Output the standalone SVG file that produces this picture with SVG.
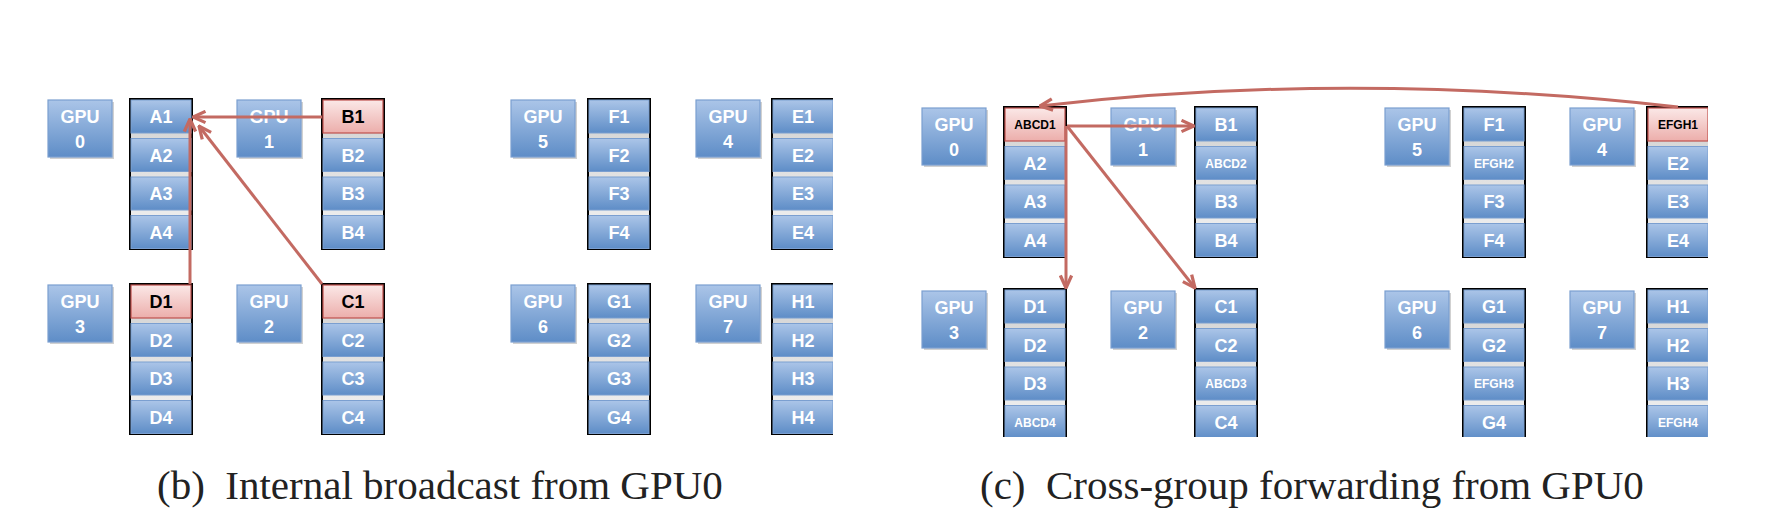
<svg xmlns="http://www.w3.org/2000/svg" width="1792" height="524" viewBox="0 0 1792 524">
<style>
.gpu{fill:url(#gBlue);stroke:#7b9fd0;stroke-width:1.2}
.sh{fill:#000;opacity:0.18}
.frame{fill:url(#gGap);stroke:#000;stroke-width:2}
.cell{fill:url(#gBlue);stroke:#7b9fd0;stroke-width:1}
.hot{fill:url(#gPink);stroke:#c0504d;stroke-width:1.2}
.lbl{font-family:"Liberation Sans",Arial,sans-serif;font-weight:bold;font-size:18px;fill:#fff;text-anchor:middle}
.sm{font-size:12px}
.dk{fill:#000}
.cap{font-family:"Liberation Serif","Times New Roman",serif;font-size:41px;fill:#222}
.con{fill:none;stroke:#c36a62;stroke-width:3;marker-end:url(#arr)}
</style>
<defs>
<linearGradient id="gBlue" x1="0" y1="0" x2="0" y2="1">
<stop offset="0" stop-color="#abc5e8"/><stop offset="1" stop-color="#5e8dc7"/>
</linearGradient>
<linearGradient id="gPink" x1="0" y1="0" x2="0" y2="1">
<stop offset="0" stop-color="#fbe8e7"/><stop offset="1" stop-color="#ecaeab"/>
</linearGradient>
<linearGradient id="gGap" x1="0" y1="0" x2="0" y2="1">
<stop offset="0" stop-color="#cfcfcf"/><stop offset="1" stop-color="#f4f4f4"/>
</linearGradient>
<marker id="arr" viewBox="0 0 12 12" refX="11" refY="6" markerWidth="15" markerHeight="15" markerUnits="userSpaceOnUse" orient="auto">
<path d="M1,1.5 L11,6 L1,10.5" fill="none" stroke="#c36a62" stroke-width="2.6"/>
</marker>
<clipPath id="clipB"><rect x="0" y="0" width="833" height="524"/></clipPath>
<clipPath id="clipC"><rect x="840" y="0" width="868" height="437"/></clipPath>
</defs>
<rect width="1792" height="524" fill="#fff"/>

<!-- Panel (b) -->
<g clip-path="url(#clipB)">
<g id="b-gpu0"><rect class="sh" x="50" y="102" width="64" height="57"/><rect class="gpu" x="48" y="100" width="64" height="57"/><text class="lbl" x="80" y="123">GPU</text><text class="lbl" x="80" y="148">0</text></g>
<g id="b-gpu1"><rect class="sh" x="239" y="102" width="64" height="57"/><rect class="gpu" x="237" y="100" width="64" height="57"/><text class="lbl" x="269" y="123">GPU</text><text class="lbl" x="269" y="148">1</text></g>
<g id="b-gpu5"><rect class="sh" x="513" y="102" width="64" height="57"/><rect class="gpu" x="511" y="100" width="64" height="57"/><text class="lbl" x="543" y="123">GPU</text><text class="lbl" x="543" y="148">5</text></g>
<g id="b-gpu4"><rect class="sh" x="698" y="102" width="64" height="57"/><rect class="gpu" x="696" y="100" width="64" height="57"/><text class="lbl" x="728" y="123">GPU</text><text class="lbl" x="728" y="148">4</text></g>
<g id="b-gpu3"><rect class="sh" x="50" y="287" width="64" height="57"/><rect class="gpu" x="48" y="285" width="64" height="57"/><text class="lbl" x="80" y="308">GPU</text><text class="lbl" x="80" y="333">3</text></g>
<g id="b-gpu2"><rect class="sh" x="239" y="287" width="64" height="57"/><rect class="gpu" x="237" y="285" width="64" height="57"/><text class="lbl" x="269" y="308">GPU</text><text class="lbl" x="269" y="333">2</text></g>
<g id="b-gpu6"><rect class="sh" x="513" y="287" width="64" height="57"/><rect class="gpu" x="511" y="285" width="64" height="57"/><text class="lbl" x="543" y="308">GPU</text><text class="lbl" x="543" y="333">6</text></g>
<g id="b-gpu7"><rect class="sh" x="698" y="287" width="64" height="57"/><rect class="gpu" x="696" y="285" width="64" height="57"/><text class="lbl" x="728" y="308">GPU</text><text class="lbl" x="728" y="333">7</text></g>

<g id="b-stackA"><rect class="frame" x="130" y="99" width="62" height="150"/>
<rect class="cell" x="131" y="100" width="60" height="33"/><text class="lbl" x="161" y="123">A1</text>
<rect class="cell" x="131" y="138.5" width="60" height="33"/><text class="lbl" x="161" y="161.5">A2</text>
<rect class="cell" x="131" y="177" width="60" height="33"/><text class="lbl" x="161" y="200">A3</text>
<rect class="cell" x="131" y="215.5" width="60" height="33"/><text class="lbl" x="161" y="238.5">A4</text></g>
<g id="b-stackB"><rect class="frame" x="322" y="99" width="62" height="150"/>
<rect class="hot" x="323" y="100" width="60" height="33"/><text class="lbl dk" x="353" y="123">B1</text>
<rect class="cell" x="323" y="138.5" width="60" height="33"/><text class="lbl" x="353" y="161.5">B2</text>
<rect class="cell" x="323" y="177" width="60" height="33"/><text class="lbl" x="353" y="200">B3</text>
<rect class="cell" x="323" y="215.5" width="60" height="33"/><text class="lbl" x="353" y="238.5">B4</text></g>
<g id="b-stackF"><rect class="frame" x="588" y="99" width="62" height="150"/>
<rect class="cell" x="589" y="100" width="60" height="33"/><text class="lbl" x="619" y="123">F1</text>
<rect class="cell" x="589" y="138.5" width="60" height="33"/><text class="lbl" x="619" y="161.5">F2</text>
<rect class="cell" x="589" y="177" width="60" height="33"/><text class="lbl" x="619" y="200">F3</text>
<rect class="cell" x="589" y="215.5" width="60" height="33"/><text class="lbl" x="619" y="238.5">F4</text></g>
<g id="b-stackE"><rect class="frame" x="772" y="99" width="62" height="150"/>
<rect class="cell" x="773" y="100" width="60" height="33"/><text class="lbl" x="803" y="123">E1</text>
<rect class="cell" x="773" y="138.5" width="60" height="33"/><text class="lbl" x="803" y="161.5">E2</text>
<rect class="cell" x="773" y="177" width="60" height="33"/><text class="lbl" x="803" y="200">E3</text>
<rect class="cell" x="773" y="215.5" width="60" height="33"/><text class="lbl" x="803" y="238.5">E4</text></g>

<g id="b-stackD"><rect class="frame" x="130" y="284" width="62" height="150"/>
<rect class="hot" x="131" y="285" width="60" height="33"/><text class="lbl dk" x="161" y="308">D1</text>
<rect class="cell" x="131" y="323.5" width="60" height="33"/><text class="lbl" x="161" y="346.5">D2</text>
<rect class="cell" x="131" y="362" width="60" height="33"/><text class="lbl" x="161" y="385">D3</text>
<rect class="cell" x="131" y="400.5" width="60" height="33"/><text class="lbl" x="161" y="423.5">D4</text></g>
<g id="b-stackC"><rect class="frame" x="322" y="284" width="62" height="150"/>
<rect class="hot" x="323" y="285" width="60" height="33"/><text class="lbl dk" x="353" y="308">C1</text>
<rect class="cell" x="323" y="323.5" width="60" height="33"/><text class="lbl" x="353" y="346.5">C2</text>
<rect class="cell" x="323" y="362" width="60" height="33"/><text class="lbl" x="353" y="385">C3</text>
<rect class="cell" x="323" y="400.5" width="60" height="33"/><text class="lbl" x="353" y="423.5">C4</text></g>
<g id="b-stackG"><rect class="frame" x="588" y="284" width="62" height="150"/>
<rect class="cell" x="589" y="285" width="60" height="33"/><text class="lbl" x="619" y="308">G1</text>
<rect class="cell" x="589" y="323.5" width="60" height="33"/><text class="lbl" x="619" y="346.5">G2</text>
<rect class="cell" x="589" y="362" width="60" height="33"/><text class="lbl" x="619" y="385">G3</text>
<rect class="cell" x="589" y="400.5" width="60" height="33"/><text class="lbl" x="619" y="423.5">G4</text></g>
<g id="b-stackH"><rect class="frame" x="772" y="284" width="62" height="150"/>
<rect class="cell" x="773" y="285" width="60" height="33"/><text class="lbl" x="803" y="308">H1</text>
<rect class="cell" x="773" y="323.5" width="60" height="33"/><text class="lbl" x="803" y="346.5">H2</text>
<rect class="cell" x="773" y="362" width="60" height="33"/><text class="lbl" x="803" y="385">H3</text>
<rect class="cell" x="773" y="400.5" width="60" height="33"/><text class="lbl" x="803" y="423.5">H4</text></g>
</g>

<!-- Panel (c) -->
<g clip-path="url(#clipC)">
<g id="c-gpu0"><rect class="sh" x="924" y="110" width="64" height="57"/><rect class="gpu" x="922" y="108" width="64" height="57"/><text class="lbl" x="954" y="131">GPU</text><text class="lbl" x="954" y="156">0</text></g>
<g id="c-gpu1"><rect class="sh" x="1113" y="110" width="64" height="57"/><rect class="gpu" x="1111" y="108" width="64" height="57"/><text class="lbl" x="1143" y="131">GPU</text><text class="lbl" x="1143" y="156">1</text></g>
<g id="c-gpu5"><rect class="sh" x="1387" y="110" width="64" height="57"/><rect class="gpu" x="1385" y="108" width="64" height="57"/><text class="lbl" x="1417" y="131">GPU</text><text class="lbl" x="1417" y="156">5</text></g>
<g id="c-gpu4"><rect class="sh" x="1572" y="110" width="64" height="57"/><rect class="gpu" x="1570" y="108" width="64" height="57"/><text class="lbl" x="1602" y="131">GPU</text><text class="lbl" x="1602" y="156">4</text></g>
<g id="c-gpu3"><rect class="sh" x="924" y="293" width="64" height="57"/><rect class="gpu" x="922" y="291" width="64" height="57"/><text class="lbl" x="954" y="314">GPU</text><text class="lbl" x="954" y="339">3</text></g>
<g id="c-gpu2"><rect class="sh" x="1113" y="293" width="64" height="57"/><rect class="gpu" x="1111" y="291" width="64" height="57"/><text class="lbl" x="1143" y="314">GPU</text><text class="lbl" x="1143" y="339">2</text></g>
<g id="c-gpu6"><rect class="sh" x="1387" y="293" width="64" height="57"/><rect class="gpu" x="1385" y="291" width="64" height="57"/><text class="lbl" x="1417" y="314">GPU</text><text class="lbl" x="1417" y="339">6</text></g>
<g id="c-gpu7"><rect class="sh" x="1572" y="293" width="64" height="57"/><rect class="gpu" x="1570" y="291" width="64" height="57"/><text class="lbl" x="1602" y="314">GPU</text><text class="lbl" x="1602" y="339">7</text></g>

<g id="c-stackA"><rect class="frame" x="1004" y="107" width="62" height="150"/>
<rect class="hot" x="1005" y="108" width="60" height="33"/><text class="lbl sm dk" x="1035" y="129">ABCD1</text>
<rect class="cell" x="1005" y="146.5" width="60" height="33"/><text class="lbl" x="1035" y="169.5">A2</text>
<rect class="cell" x="1005" y="185" width="60" height="33"/><text class="lbl" x="1035" y="208">A3</text>
<rect class="cell" x="1005" y="223.5" width="60" height="33"/><text class="lbl" x="1035" y="246.5">A4</text></g>
<g id="c-stackB"><rect class="frame" x="1195" y="107" width="62" height="150"/>
<rect class="cell" x="1196" y="108" width="60" height="33"/><text class="lbl" x="1226" y="131">B1</text>
<rect class="cell" x="1196" y="146.5" width="60" height="33"/><text class="lbl sm" x="1226" y="167.5">ABCD2</text>
<rect class="cell" x="1196" y="185" width="60" height="33"/><text class="lbl" x="1226" y="208">B3</text>
<rect class="cell" x="1196" y="223.5" width="60" height="33"/><text class="lbl" x="1226" y="246.5">B4</text></g>
<g id="c-stackF"><rect class="frame" x="1463" y="107" width="62" height="150"/>
<rect class="cell" x="1464" y="108" width="60" height="33"/><text class="lbl" x="1494" y="131">F1</text>
<rect class="cell" x="1464" y="146.5" width="60" height="33"/><text class="lbl sm" x="1494" y="167.5">EFGH2</text>
<rect class="cell" x="1464" y="185" width="60" height="33"/><text class="lbl" x="1494" y="208">F3</text>
<rect class="cell" x="1464" y="223.5" width="60" height="33"/><text class="lbl" x="1494" y="246.5">F4</text></g>
<g id="c-stackE"><rect class="frame" x="1647" y="107" width="62" height="150"/>
<rect class="hot" x="1648" y="108" width="60" height="33"/><text class="lbl sm dk" x="1678" y="129">EFGH1</text>
<rect class="cell" x="1648" y="146.5" width="60" height="33"/><text class="lbl" x="1678" y="169.5">E2</text>
<rect class="cell" x="1648" y="185" width="60" height="33"/><text class="lbl" x="1678" y="208">E3</text>
<rect class="cell" x="1648" y="223.5" width="60" height="33"/><text class="lbl" x="1678" y="246.5">E4</text></g>

<g id="c-stackD"><rect class="frame" x="1004" y="289" width="62" height="150"/>
<rect class="cell" x="1005" y="290" width="60" height="33"/><text class="lbl" x="1035" y="313">D1</text>
<rect class="cell" x="1005" y="328.5" width="60" height="33"/><text class="lbl" x="1035" y="351.5">D2</text>
<rect class="cell" x="1005" y="367" width="60" height="33"/><text class="lbl" x="1035" y="390">D3</text>
<rect class="cell" x="1005" y="405.5" width="60" height="33"/><text class="lbl sm" x="1035" y="426.5">ABCD4</text></g>
<g id="c-stackC"><rect class="frame" x="1195" y="289" width="62" height="150"/>
<rect class="cell" x="1196" y="290" width="60" height="33"/><text class="lbl" x="1226" y="313">C1</text>
<rect class="cell" x="1196" y="328.5" width="60" height="33"/><text class="lbl" x="1226" y="351.5">C2</text>
<rect class="cell" x="1196" y="367" width="60" height="33"/><text class="lbl sm" x="1226" y="388">ABCD3</text>
<rect class="cell" x="1196" y="405.5" width="60" height="33"/><text class="lbl" x="1226" y="428.5">C4</text></g>
<g id="c-stackG"><rect class="frame" x="1463" y="289" width="62" height="150"/>
<rect class="cell" x="1464" y="290" width="60" height="33"/><text class="lbl" x="1494" y="313">G1</text>
<rect class="cell" x="1464" y="328.5" width="60" height="33"/><text class="lbl" x="1494" y="351.5">G2</text>
<rect class="cell" x="1464" y="367" width="60" height="33"/><text class="lbl sm" x="1494" y="388">EFGH3</text>
<rect class="cell" x="1464" y="405.5" width="60" height="33"/><text class="lbl" x="1494" y="428.5">G4</text></g>
<g id="c-stackH"><rect class="frame" x="1647" y="289" width="62" height="150"/>
<rect class="cell" x="1648" y="290" width="60" height="33"/><text class="lbl" x="1678" y="313">H1</text>
<rect class="cell" x="1648" y="328.5" width="60" height="33"/><text class="lbl" x="1678" y="351.5">H2</text>
<rect class="cell" x="1648" y="367" width="60" height="33"/><text class="lbl" x="1678" y="390">H3</text>
<rect class="cell" x="1648" y="405.5" width="60" height="33"/><text class="lbl sm" x="1678" y="426.5">EFGH4</text></g>
</g>

<g id="connectors">
<path class="con" d="M322,117 L193,117"/>
<path class="con" d="M190,284 L190,119"/>
<path class="con" d="M322,284 L199,126"/>
<path class="con" d="M1067,126 L1194,126"/>
<path class="con" d="M1066,126 L1066,288"/>
<path class="con" d="M1067,126 L1195,288"/>
<path class="con" d="M1678,107 Q1350,70 1040,106"/>
</g>

<text class="cap" x="157" y="499" xml:space="preserve">(b)  Internal broadcast from GPU0</text>
<text class="cap" x="980" y="499" xml:space="preserve">(c)  Cross-group forwarding from GPU0</text>
</svg>
